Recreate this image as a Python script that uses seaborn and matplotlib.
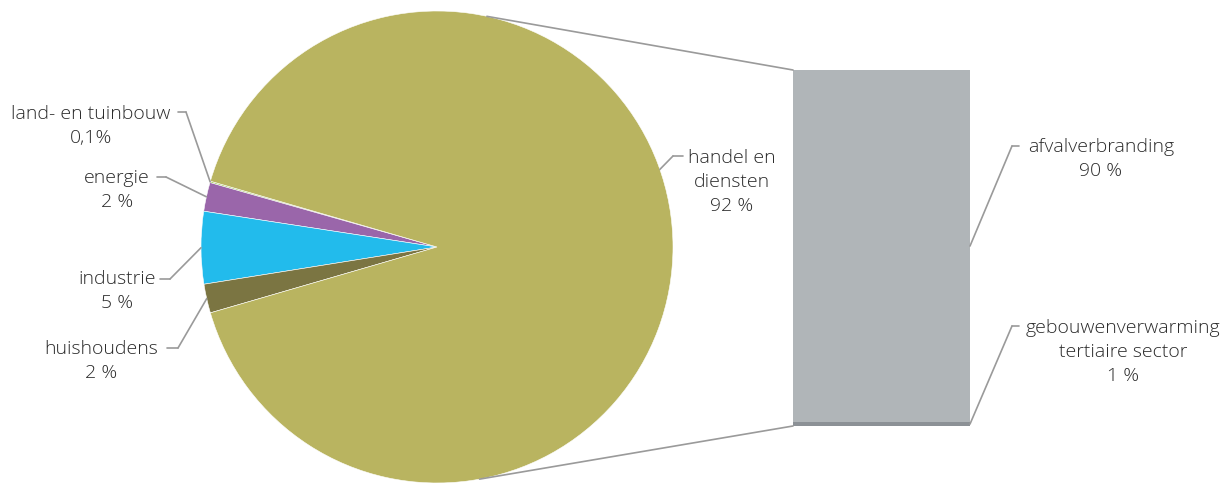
import numpy as np
import matplotlib
matplotlib.use("Agg")
import matplotlib.pyplot as plt
from matplotlib.patches import ConnectionPatch
import seaborn as sns

# Sector shares (pie), counter-clockwise from the small slices
sectors = ["land- en tuinbouw", "energie", "industrie", "huishoudens", "handel en\ndiensten"]
sector_labels = ["0,1%", "2 %", "5 %", "2 %", "92 %"]
sector_values = [0.1, 2, 5, 2, 92]
sector_colors = ["#9CCB4E", "#9A66AA", "#22BBEC", "#7B7542", "#B9B460"]

# Breakdown of "handel en diensten" (stacked bar)
sub_sources = ["afvalverbranding", "gebouwenverwarming\ntertiaire sector"]
sub_labels = ["90 %", "1 %"]
sub_values = [90, 1]
sub_colors = ["#B0B5B8", "#8C9196"]

sns.set_theme(style="white")
plt.rcParams["font.family"] = ["Open Sans", "DejaVu Sans"]

W, H = 1231, 485
fig = plt.figure(figsize=(W / 100, H / 100), dpi=100)

# overlay in pixel coordinates for labels and leader lines
ov = fig.add_axes([0, 0, 1, 1])
ov.set_xlim(0, W)
ov.set_ylim(H, 0)
ov.axis("off")

cx, cy, r = 437, 248, 236
ax_pie = fig.add_axes([(cx - r) / W, (H - cy - r) / H, 2 * r / W, 2 * r / H])
small = sum(sector_values[:-1]) / sum(sector_values) * 360
wedges, _ = ax_pie.pie(sector_values, colors=sector_colors, startangle=180 - small / 2,
                       counterclock=True, radius=1,
                       wedgeprops=dict(linewidth=0.4, edgecolor="white"))
ax_pie.set_xlim(-1, 1)
ax_pie.set_ylim(-1, 1)
ax_pie.set_aspect("auto")

bx0, bx1, by0, by1 = 793, 970, 71, 427
ax_bar = fig.add_axes([bx0 / W, (H - by1) / H, (bx1 - bx0) / W, (by1 - by0) / H])
bottoms = np.cumsum([0] + sub_values[::-1])[:-1]
for v, b, c in zip(sub_values[::-1], bottoms, sub_colors[::-1]):
    ax_bar.bar(0, v, bottom=b, width=1, color=c, linewidth=0)
ax_bar.set_xlim(-0.5, 0.5)
ax_bar.set_ylim(0, sum(sub_values))
ax_bar.axis("off")

line_kw = dict(color="#9A9A9A", lw=1.2)
text_kw = dict(color="#2B2B2B", fontsize=14, linespacing=1.42, fontweight="light")

def edge_point(w, ang=None):
    a = np.deg2rad((w.theta1 + w.theta2) / 2 if ang is None else ang)
    return np.cos(a), np.sin(a)

def leader(pt_axes, pt_data, elbow, end):
    con = ConnectionPatch(xyA=pt_data, coordsA=pt_axes.transData,
                          xyB=elbow, coordsB=ov.transData, **line_kw)
    fig.add_artist(con)
    ov.plot([elbow[0], end[0]], [elbow[1], end[1]], **line_kw)

# left-hand labels: (elbow, line end, text anchor)
left_layout = [((186, 113), (178, 113), (91, 126)),
               ((166, 178), (157, 178), (117, 190)),
               ((170, 280), (160, 280), (117, 291)),
               ((178, 349), (167, 349), (101, 361))]
for w, name, lab, (elb, end, tpos) in zip(wedges[:4], sectors[:4], sector_labels[:4], left_layout):
    leader(ax_pie, edge_point(w), elb, end)
    ov.text(tpos[0], tpos[1], f"{name}\n{lab}", ha="center", va="center",
            multialignment="center", **text_kw)

# handel en diensten label
leader(ax_pie, edge_point(wedges[4], ang=19.2), (673, 157), (683, 157))
ov.text(732, 182, f"{sectors[4]}\n{sector_labels[4]}", ha="center", va="center",
        multialignment="center", **text_kw)

# bar labels
bar_layout = [((1012, 147), (1019, 147), (1101, 159)),
              ((1012, 327), (1019, 327), (1123, 352))]
for i, (name, lab, (elb, end, tpos)) in enumerate(zip(sub_sources, sub_labels, bar_layout)):
    top = sum(sub_values[i:])
    mid = top - sub_values[i] / 2
    leader(ax_bar, (0.5, mid), elb, end)
    ov.text(tpos[0], tpos[1], f"{name}\n{lab}", ha="center", va="center",
            multialignment="center", **text_kw)

# connectors between pie and bar
for ang, yb in [(77.8, sum(sub_values)), (-79.6, 0)]:
    a = np.deg2rad(ang)
    con = ConnectionPatch(xyA=(np.cos(a), np.sin(a)), coordsA=ax_pie.transData,
                          xyB=(-0.5, yb), coordsB=ax_bar.transData, **line_kw)
    fig.add_artist(con)

fig.savefig("out.png", dpi=100, facecolor="white")
